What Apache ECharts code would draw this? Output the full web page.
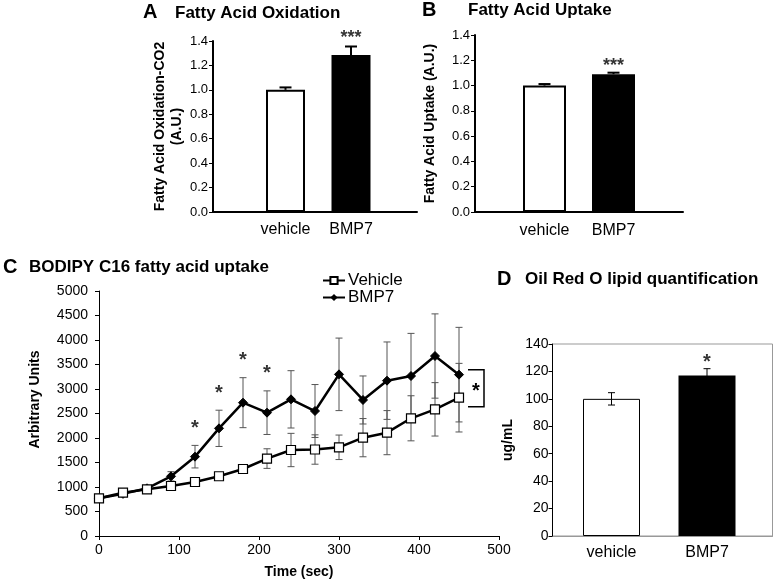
<!DOCTYPE html>
<html>
<head>
<meta charset="utf-8">
<script src="https://cdn.jsdelivr.net/npm/echarts@6/dist/echarts.min.js"></script>
<style>html,body{margin:0;padding:0;background:#fff}#c{width:775px;height:581px}</style>
</head>
<body>
<div id="c"></div>
<script>
// ---- data ----
const cats = ['vehicle', 'BMP7'];
const oxMean = [1.0, 1.285];
const oxErr = [0.02, 0.07];
const upMean = [1.0, 1.09];
const upErr = [0.012, 0.012];
const oroMean = [100, 117];
const oroErr = [4.5, 5];
const times = [0, 30, 60, 90, 120, 150, 180, 210, 240, 270, 300, 330, 360, 390, 420, 450];
const vehicle = [769, 884, 952, 1020, 1102, 1219, 1367, 1580, 1755, 1765, 1810, 2007, 2109, 2402, 2585, 2823];
const vehicleErr = [30, 40, 40, 50, 50, 60, 70, 200, 340, 300, 250, 390, 450, 460, 545, 700];
const bmp7 = [769, 860, 973, 1218, 1619, 2197, 2721, 2517, 2789, 2551, 3299, 2776, 3170, 3265, 3673, 3293];
const bmp7Err = [30, 40, 50, 95, 230, 370, 510, 445, 585, 540, 740, 490, 790, 870, 860, 965];
const starTimes = [120, 150, 180, 210];

const FONT = 'Liberation Sans, Arial, sans-serif';
const chart = echarts.init(document.getElementById('c'), null, {renderer: 'canvas'});

function barData(means) {
  return means.map((v, i) => i === 0
    ? {value: v, itemStyle: {color: '#fff', borderColor: '#000', borderWidth: 2}}
    : {value: v, itemStyle: {color: '#000'}});
}
function errItems(means, errs) { return means.map((v, i) => [i, v, errs[i]]); }

function errRender(opts) {
  return function (params, api) {
    const x = api.value(0), v = api.value(1), e = api.value(2);
    const pm = api.coord([x, v]);
    const pt = api.coord([x, v + e]);
    const pb = opts.both ? api.coord([x, v - e]) : pm;
    const st = {stroke: opts.color, lineWidth: opts.width};
    const c = opts.cap;
    const ch = [
      {type: 'line', shape: {x1: pt[0], y1: pt[1], x2: pb[0], y2: pb[1]}, style: st},
      {type: 'line', shape: {x1: pt[0] - c, y1: pt[1], x2: pt[0] + c, y2: pt[1]}, style: st}
    ];
    if (opts.both) ch.push({type: 'line', shape: {x1: pb[0] - c, y1: pb[1], x2: pb[0] + c, y2: pb[1]}, style: st});
    return {type: 'group', children: ch};
  };
}

function frameX(gi, w) {
  return {type: 'value', gridIndex: gi, min: 0, max: 1, axisLine: {show: true, lineStyle: {color: '#000', width: w}},
    axisTick: {show: false}, axisLabel: {show: false}, splitLine: {show: false}};
}
function catX(gi, margin) {
  return {type: 'category', gridIndex: gi, data: cats, axisLine: {show: false}, axisTick: {show: false},
    axisLabel: {color: '#000', fontSize: 16, fontFamily: FONT, margin: margin}};
}
function hiddenY(gi, max) {
  return {type: 'value', gridIndex: gi, min: 0, max: max, show: false};
}
function starLabel(text, size, dist) {
  return {show: true, formatter: text, position: 'top', distance: dist, color: '#000',
    fontSize: size, fontWeight: 'bold', fontFamily: FONT};
}

const option = {
  animation: false,
  backgroundColor: '#fff',
  textStyle: {fontFamily: FONT},
  title: [
    {text: 'A', left: 143, top: 2, padding: 0, textStyle: {fontSize: 20, fontWeight: 'bold', fontFamily: FONT, color: '#000'}},
    {text: 'Fatty Acid Oxidation', left: 175, top: 5, padding: 0, textStyle: {fontSize: 17, fontWeight: 'bold', fontFamily: FONT, color: '#000'}},
    {text: 'B', left: 422, top: 0, padding: 0, textStyle: {fontSize: 20, fontWeight: 'bold', fontFamily: FONT, color: '#000'}},
    {text: 'Fatty Acid Uptake', left: 468, top: 2, padding: 0, textStyle: {fontSize: 17, fontWeight: 'bold', fontFamily: FONT, color: '#000'}},
    {text: 'C', left: 3, top: 257, padding: 0, textStyle: {fontSize: 20, fontWeight: 'bold', fontFamily: FONT, color: '#000'}},
    {text: 'BODIPY C16 fatty acid uptake', left: 29, top: 259, padding: 0, textStyle: {fontSize: 17, fontWeight: 'bold', fontFamily: FONT, color: '#000'}},
    {text: 'D', left: 497, top: 269, padding: 0, textStyle: {fontSize: 20, fontWeight: 'bold', fontFamily: FONT, color: '#000'}},
    {text: 'Oil Red O lipid quantification', left: 525, top: 271, padding: 0, textStyle: {fontSize: 17, fontWeight: 'bold', fontFamily: FONT, color: '#000'}}
  ],
  legend: {
    left: 322, top: 272, orient: 'vertical', itemWidth: 22, itemHeight: 9, itemGap: 0, padding: 0,
    data: ['Vehicle', 'BMP7'],
    textStyle: {fontSize: 17, color: '#000', fontFamily: FONT, padding: [0, 0, 0, -2], lineHeight: 15}
  },
  grid: [
    {left: 213, top: 41, width: 204, height: 171},
    {left: 252.75, top: 41, width: 131, height: 171},
    {left: 475, top: 35, width: 208, height: 177},
    {left: 510, top: 35, width: 138, height: 177},
    {left: 99, top: 291, width: 400, height: 245},
    {left: 552.5, top: 344, width: 220, height: 192, show: true, borderColor: '#999', borderWidth: 1},
    {left: 563.75, top: 344, width: 191, height: 192}
  ],
  xAxis: [
    frameX(0, 2),
    catX(1, 10),
    frameX(2, 2),
    catX(3, 11),
    {type: 'value', gridIndex: 4, min: 0, max: 500, interval: 100,
      axisLine: {lineStyle: {color: '#000', width: 1}}, axisTick: {show: true, length: 4, lineStyle: {color: '#000'}},
      axisLabel: {color: '#000', fontSize: 14, fontFamily: FONT, margin: 7}, splitLine: {show: false},
      name: 'Time (sec)', nameLocation: 'middle', nameGap: 29,
      nameTextStyle: {fontSize: 14, fontWeight: 'bold', color: '#000', fontFamily: FONT}},
    {type: 'value', gridIndex: 5, min: 0, max: 1, axisLine: {show: true, lineStyle: {color: '#999', width: 1}},
      axisTick: {show: false}, axisLabel: {show: false}, splitLine: {show: false}},
    catX(6, 9)
  ],
  yAxis: [
    {type: 'value', gridIndex: 0, min: 0, max: 1.4, interval: 0.2,
      axisLine: {show: true, lineStyle: {color: '#000', width: 2}}, axisTick: {show: true, length: 4, lineStyle: {color: '#000', width: 1}},
      axisLabel: {color: '#000', fontSize: 13, fontFamily: FONT, margin: 5, formatter: v => v.toFixed(1)}, splitLine: {show: false},
      name: 'Fatty Acid Oxidation-CO2\n(A.U.)', nameLocation: 'middle', nameGap: 26, nameRotate: 90,
      nameTextStyle: {fontSize: 14, fontWeight: 'bold', color: '#000', fontFamily: FONT, lineHeight: 17}},
    hiddenY(1, 1.4),
    {type: 'value', gridIndex: 2, min: 0, max: 1.4, interval: 0.2,
      axisLine: {show: true, lineStyle: {color: '#000', width: 2}}, axisTick: {show: true, length: 4, lineStyle: {color: '#000', width: 1}},
      axisLabel: {color: '#000', fontSize: 13, fontFamily: FONT, margin: 5, formatter: v => v.toFixed(1)}, splitLine: {show: false},
      name: 'Fatty Acid Uptake (A.U.)', nameLocation: 'middle', nameGap: 38, nameRotate: 90,
      nameTextStyle: {fontSize: 14, fontWeight: 'bold', color: '#000', fontFamily: FONT}},
    hiddenY(3, 1.4),
    {type: 'value', gridIndex: 4, min: 0, max: 5000, interval: 500,
      axisLine: {show: true, lineStyle: {color: '#000', width: 1}}, axisTick: {show: true, length: 4, lineStyle: {color: '#000'}},
      axisLabel: {color: '#000', fontSize: 14, fontFamily: FONT, margin: 11, formatter: v => String(v)}, splitLine: {show: false},
      name: 'Arbitrary Units', nameLocation: 'middle', nameGap: 57, nameRotate: 90,
      nameTextStyle: {fontSize: 14, fontWeight: 'bold', color: '#000', fontFamily: FONT, padding: [0, 0, 0, 28]}},
    {type: 'value', gridIndex: 5, min: 0, max: 140, interval: 20,
      axisLine: {show: true, lineStyle: {color: '#000', width: 1}}, axisTick: {show: true, length: 4, lineStyle: {color: '#000'}},
      axisLabel: {color: '#000', fontSize: 14, fontFamily: FONT, margin: 4}, splitLine: {show: false},
      name: 'ug/mL', nameLocation: 'middle', nameGap: 37, nameRotate: 90,
      nameTextStyle: {fontSize: 14, fontWeight: 'bold', color: '#000', fontFamily: FONT}},
    hiddenY(6, 140)
  ],
  series: [
    // Panel A
    {type: 'bar', xAxisIndex: 1, yAxisIndex: 1, barWidth: 39, data: barData(oxMean)},
    {type: 'custom', xAxisIndex: 1, yAxisIndex: 1, z: 5, renderItem: errRender({color: '#000', width: 2, cap: 6, both: false}),
      data: errItems(oxMean, oxErr)},
    {type: 'scatter', xAxisIndex: 1, yAxisIndex: 1, symbolSize: 0, data: [[1, oxMean[1] + oxErr[1]]], label: starLabel('***', 18, -1)},
    // Panel B
    {type: 'bar', xAxisIndex: 3, yAxisIndex: 3, barWidth: 43, data: barData(upMean)},
    {type: 'custom', xAxisIndex: 3, yAxisIndex: 3, z: 5, renderItem: errRender({color: '#000', width: 2, cap: 6, both: false}),
      data: errItems(upMean, upErr)},
    {type: 'scatter', xAxisIndex: 3, yAxisIndex: 3, symbolSize: 0, data: [[1, upMean[1] + upErr[1]]], label: starLabel('***', 18, -2)},
    // Panel C
    {type: 'custom', name: 'errV', xAxisIndex: 4, yAxisIndex: 4, z: 1,
      renderItem: errRender({color: '#555', width: 1, cap: 3.5, both: true}),
      data: times.map((t, i) => [t, vehicle[i], vehicleErr[i]])},
    {type: 'custom', name: 'errB', xAxisIndex: 4, yAxisIndex: 4, z: 1,
      renderItem: errRender({color: '#555', width: 1, cap: 3.5, both: true}),
      data: times.map((t, i) => [t, bmp7[i], bmp7Err[i]])},
    {type: 'line', name: 'BMP7', xAxisIndex: 4, yAxisIndex: 4, z: 3,
      data: times.map((t, i) => [t, bmp7[i]]),
      symbol: 'diamond', symbolSize: 9, showSymbol: true,
      lineStyle: {color: '#000', width: 2.5}, itemStyle: {color: '#000', borderColor: '#000'}},
    {type: 'line', name: 'Vehicle', xAxisIndex: 4, yAxisIndex: 4, z: 4,
      data: times.map((t, i) => [t, vehicle[i]]),
      symbol: 'rect', symbolSize: 9, showSymbol: true,
      lineStyle: {color: '#000', width: 2.5}, itemStyle: {color: '#fff', borderColor: '#000', borderWidth: 1.2}},
    {type: 'scatter', xAxisIndex: 4, yAxisIndex: 4, symbolSize: 0,
      data: starTimes.map(t => { const i = times.indexOf(t); return [t, bmp7[i] + bmp7Err[i]]; }),
      label: starLabel('*', 20, 7)},
    {type: 'custom', xAxisIndex: 4, yAxisIndex: 4, z: 5,
      data: [[times[times.length - 1], bmp7[bmp7.length - 1], vehicle[vehicle.length - 1]]],
      renderItem: function (params, api) {
        const pTop = api.coord([api.value(0), api.value(1)]);
        const pBot = api.coord([api.value(0), api.value(2)]);
        const x0 = pTop[0] + 9, x1 = pTop[0] + 25, yT = pTop[1] - 5, yB = pBot[1] + 9;
        return {type: 'group', children: [
          {type: 'polyline', shape: {points: [[x0, yT], [x1, yT], [x1, yB], [x0, yB]]}, style: {stroke: '#000', lineWidth: 1.5, fill: null}},
          {type: 'text', style: {text: '*', x: (x0 + x1) / 2, y: (yT + yB) / 2 + 3, align: 'center', verticalAlign: 'middle',
            fontSize: 20, fontWeight: 'bold', fontFamily: FONT, fill: '#000'}}
        ]};
      }},
    // Panel D
    {type: 'bar', xAxisIndex: 6, yAxisIndex: 6, barWidth: 57,
      data: oroMean.map((v, i) => i === 0
        ? {value: v, itemStyle: {color: '#fff', borderColor: '#000', borderWidth: 1}}
        : {value: v, itemStyle: {color: '#000'}})},
    {type: 'custom', xAxisIndex: 6, yAxisIndex: 6, z: 5, renderItem: errRender({color: '#000', width: 1, cap: 3.5, both: true}),
      data: errItems(oroMean, oroErr)},
    {type: 'scatter', xAxisIndex: 6, yAxisIndex: 6, symbolSize: 0, data: [[1, oroMean[1] + oroErr[1]]], label: starLabel('*', 20, -4)}
  ]
};
chart.setOption(option);
</script>
</body>
</html>
